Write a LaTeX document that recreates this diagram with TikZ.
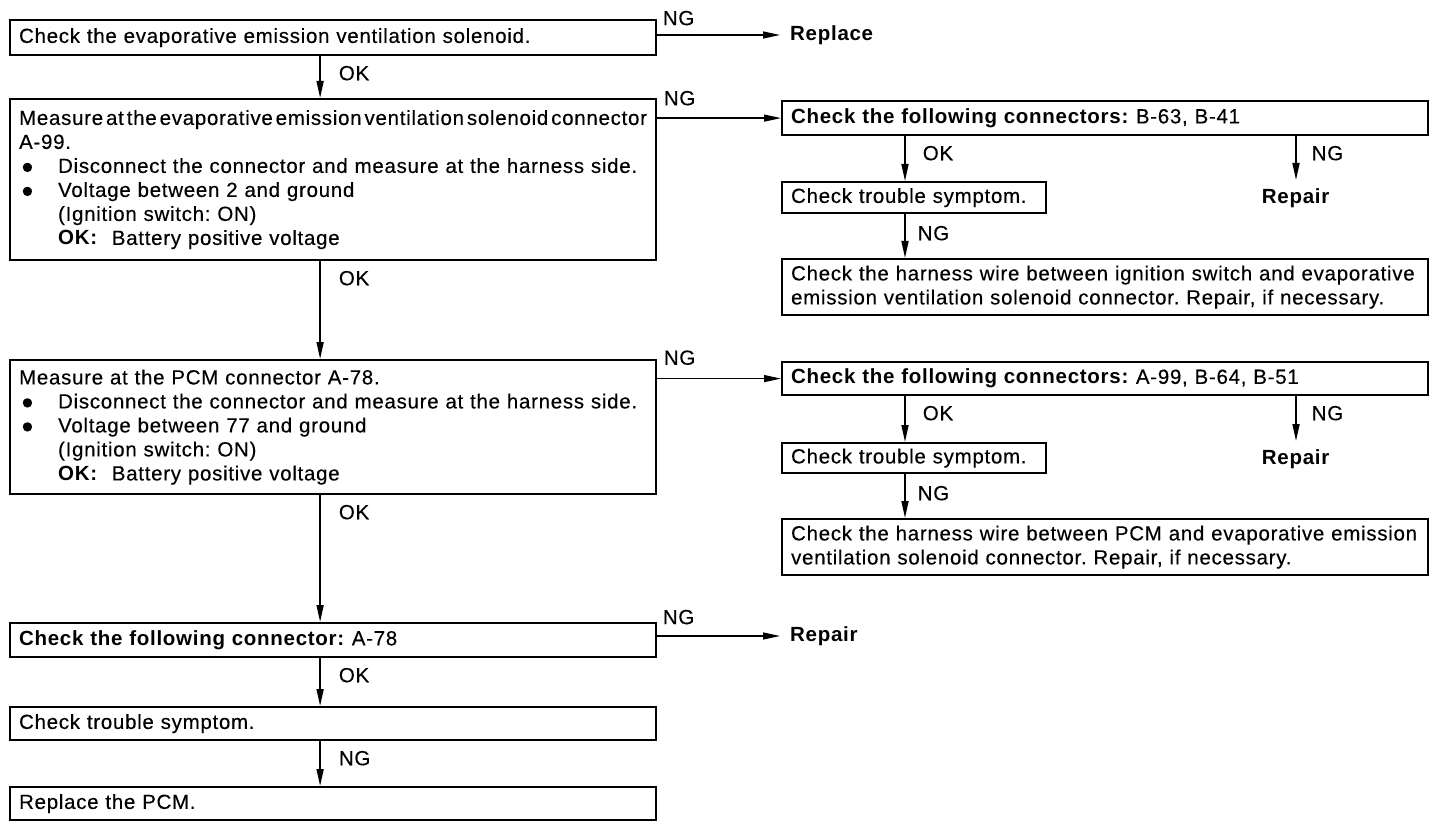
\documentclass[tikz,border=0pt]{standalone}
\usepackage{fontspec}
\setmainfont{Liberation Sans}[LetterSpace=3.5,WordSpace=2,UprightFeatures={FakeBold=0.3}]
\usetikzlibrary{arrows.meta,positioning}
\frenchspacing

\tikzset{
	box/.style={draw, line width=2.2pt, anchor=north west, inner xsep=9pt, inner ysep=0pt,
		align=left, font=\fontsize{20.5}{24}\selectfont},
	arr/.style={line width=1.6pt, -{Triangle[length=17pt,width=7pt]}},
	harr/.style={line width=1.3pt, -{Triangle[length=17pt,width=7pt]}},
	lbl/.style={inner sep=0pt, font=\fontsize{20.5}{24}\selectfont}
}
\newcommand{\bul}{\hspace*{2pt}\makebox[37pt][l]{\smash{\raisebox{-0.5pt}{\fontsize{21}{24}\selectfont ●}}}}
\newcommand{\ind}{\hspace*{39pt}}

\begin{document}
\begin{tikzpicture}[x=1pt,y=-1pt]
	\useasboundingbox (0,0) rectangle (1440,826);
	% left column
	\node[box, minimum width=646pt, minimum height=35pt, text width=628pt] (chk) at (9,19)
		{Check the evaporative emission ventilation solenoid.};
	\node[box, minimum width=646pt, minimum height=161pt, text width=628pt] (msol) at (9,98)
		{\makebox[628pt][s]{\spaceskip=1pt plus 20pt Measure at the evaporative emission ventilation solenoid connector}\\
		A-99.\\
		\bul Disconnect the connector and measure at the harness side.\\
		\bul Voltage between 2 and ground\\
		\ind (Ignition switch: ON)\\
		\ind\textbf{OK:}\hspace{14pt}Battery positive voltage};
	\node[box, minimum width=646pt, minimum height=134pt, text width=628pt] (mpcm) at (9,359)
		{Measure at the PCM connector A-78.\\
		\bul Disconnect the connector and measure at the harness side.\\
		\bul Voltage between 77 and ground\\
		\ind (Ignition switch: ON)\\
		\ind\textbf{OK:}\hspace{14pt}Battery positive voltage};
	\node[box, minimum width=646pt, minimum height=34pt, text width=628pt] (conn) at (9,622)
		{\textbf{Check the following connector:} A-78};
	\node[box, minimum width=646pt, minimum height=33pt, text width=628pt] (sym) at (9,706)
		{Check trouble symptom.};
	\node[box, minimum width=646pt, minimum height=33pt, text width=628pt] (pcm) at (9,786)
		{Replace the PCM.};

	% right column, upper group
	\node[box, minimum width=646pt, minimum height=34pt, text width=628pt] (conA) at (781,100)
		{\textbf{Check the following connectors:} B-63, B-41};
	\node[box, minimum width=264pt, minimum height=31pt, text width=246pt] (symA) at (781,181)
		{Check trouble symptom.};
	\node[box, minimum width=646pt, minimum height=56pt, text width=628pt] (wirA) at (781,258)
		{\mbox{Check the harness wire between ignition switch and evaporative}\\
		emission ventilation solenoid connector. Repair, if necessary.};
	% right column, lower group
	\node[box, minimum width=646pt, minimum height=33pt, text width=628pt] (conB) at (781,361)
		{\textbf{Check the following connectors:} A-99, B-64, B-51};
	\node[box, minimum width=264pt, minimum height=30pt, text width=246pt] (symB) at (781,442)
		{Check trouble symptom.};
	\node[box, minimum width=646pt, minimum height=56pt, text width=628pt] (wirB) at (781,518)
		{\mbox{Check the harness wire between PCM and evaporative emission}\\
		ventilation solenoid connector. Repair, if necessary.};

	% end texts
	\node[lbl, anchor=west] (rpl) at (790,35) {\textbf{Replace}};
	\node[lbl, anchor=west] (rpr) at (790,636) {\textbf{Repair}};
	\node[lbl, anchor=north] (rpA) at (1296,188) {\textbf{Repair}};
	\node[lbl, anchor=north] (rpB) at (1296,449) {\textbf{Repair}};

	% vertical connectors, left
	\foreach \a/\b/\t in {chk/msol/OK, msol/mpcm/OK, mpcm/conn/OK, conn/sym/OK, sym/pcm/NG}
		\draw[arr] ([xshift=-13pt]\a.south) -- ([xshift=-13pt]\b.north)
			node[lbl, pos=0, anchor=west, xshift=18pt, yshift=-17pt] {\t};

	% horizontal connectors
	\draw[harr] (rpl.west -| chk.east) -- ([xshift=-10pt]rpl.west)
		node[lbl, pos=0, anchor=south west, xshift=5pt, yshift=9pt] {NG};
	\draw[harr] (conA.west -| msol.east) -- (conA.west)
		node[lbl, pos=0, anchor=south west, xshift=6pt, yshift=12pt] {NG};
	\draw[harr] (conB.west -| mpcm.east) -- (conB.west)
		node[lbl, pos=0, anchor=south west, xshift=6pt, yshift=13pt] {NG};
	\draw[harr] (rpr.west -| conn.east) -- ([xshift=-10pt]rpr.west)
		node[lbl, pos=0, anchor=south west, xshift=5pt, yshift=11pt] {NG};

	% vertical connectors, right
	\foreach \g in {A,B} {
		\draw[arr] ([xshift=124pt]con\g.south west) -- ([xshift=124pt]sym\g.north west)
			node[lbl, pos=0, anchor=west, xshift=17pt, yshift=-17pt] {OK};
		\draw[arr] ([xshift=124pt]sym\g.south west) -- ([xshift=124pt]wir\g.north west)
			node[lbl, pos=0, anchor=west, xshift=12pt, yshift=-19pt] {NG};
		\draw[arr] (con\g.south -| rp\g.north) -- ([yshift=8pt]rp\g.north)
			node[lbl, pos=0, anchor=west, xshift=15pt, yshift=-17pt] {NG};
	}
\end{tikzpicture}
\end{document}
